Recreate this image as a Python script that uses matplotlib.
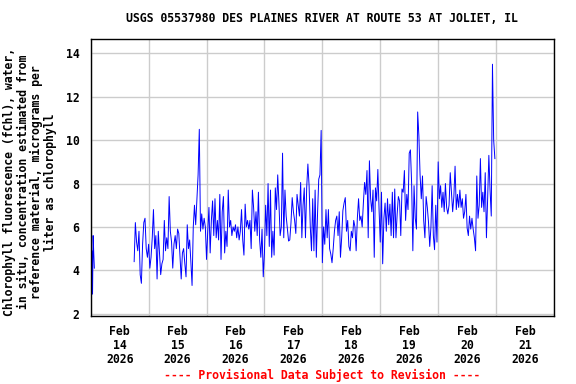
import numpy as np
import pandas as pd
import matplotlib
matplotlib.use('Agg')
import matplotlib.pyplot as plt
import matplotlib.dates as mdates

# chlorophyll fluorescence readings
# short early-morning run on Feb 14, 15 minute steps
early_start = '2026-02-14 00:00'
early_vals = [4.8, 3.6, 4.9, 2.9, 5.6, 4.8, 4.1]

# main record from Feb 14 18:00, 30 minute steps
main_start = '2026-02-14 18:00'
feb14_eve = [4.4, 6.2, 5.3, 4.9, 5.8, 3.8, 3.4, 5.2, 6.2, 6.4, 5.0, 4.6]
feb15 = [5.2, 4.1, 4.6, 5.5, 6.8, 5.0, 5.6, 3.6, 5.8, 4.8, 3.8, 4.3, 4.5, 6.3, 4.9, 5.5,
         5.0, 7.4, 5.8, 5.3, 4.1, 5.2, 5.6, 5.0, 5.9, 5.7, 4.6, 3.6, 4.8, 5.0, 4.3, 3.7,
         6.1, 5.0, 5.4, 4.4, 3.3, 6.0, 7.0, 6.1, 7.3, 8.4, 10.5, 5.8, 6.6, 5.9, 6.4, 6.0]
feb16 = [4.5, 5.8, 6.9, 4.8, 6.3, 7.2, 5.6, 7.3, 5.5, 6.3, 5.4, 7.5, 4.5, 6.7, 7.4, 4.8,
         5.8, 5.1, 7.7, 6.0, 6.3, 5.6, 6.0, 5.8, 6.1, 5.5, 6.0, 5.4, 5.8, 6.8, 5.4, 4.7,
         7.05, 6.0, 6.3, 5.9, 6.3, 5.0, 7.7, 6.9, 5.8, 6.7, 5.6, 7.6, 5.4, 4.6, 5.9, 3.7]
feb17 = [4.8, 7.0, 5.6, 8.0, 5.1, 7.7, 4.6, 5.8, 4.7, 7.8, 6.8, 8.4, 7.1, 5.6, 6.0, 9.4,
         5.5, 7.7, 6.5, 5.9, 5.35, 5.4, 6.2, 7.35, 6.7, 6.3, 5.7, 7.5, 7.0, 6.5, 8.05, 5.5,
         7.0, 7.8, 5.5, 7.8, 8.9, 7.9, 6.0, 4.9, 7.3, 4.9, 7.7, 4.6, 6.6, 8.2, 8.4, 10.45]
feb18 = [4.35, 6.0, 5.2, 6.8, 5.5, 6.8, 5.0, 4.75, 4.35, 5.0, 5.8, 6.3, 6.5, 5.6, 6.7, 4.6,
         5.5, 6.75, 7.1, 7.35, 5.8, 6.3, 5.1, 4.9, 5.8, 5.5, 6.3, 6.0, 4.9, 6.4, 7.3, 6.3,
         6.5, 6.0, 7.1, 8.05, 7.5, 8.6, 5.5, 9.05, 7.3, 6.7, 7.7, 4.6, 7.8, 7.2, 8.65, 6.8]
feb19 = [5.3, 7.6, 4.3, 6.4, 7.1, 5.8, 7.3, 6.1, 7.05, 5.6, 7.6, 5.5, 7.75, 5.5, 6.6, 7.4,
         7.2, 5.6, 7.75, 7.6, 8.6, 6.3, 7.5, 6.8, 9.4, 9.55, 8.0, 4.9, 7.9, 6.4, 5.9, 11.3,
         10.2, 8.4, 7.3, 8.35, 6.3, 5.5, 7.4, 6.9, 6.2, 5.1, 6.0, 7.9, 5.6, 4.95, 7.0, 5.3]
feb20 = [9.0, 7.3, 7.9, 6.9, 7.6, 6.7, 8.0, 6.9, 6.6, 7.0, 8.5, 7.6, 6.7, 7.4, 8.8, 6.8,
         7.5, 6.9, 7.7, 6.9, 7.3, 6.4, 6.7, 7.5, 5.95, 5.6, 6.5, 5.9, 6.4, 5.9, 5.5, 4.9,
         8.35, 6.4, 7.0, 9.15, 6.9, 7.6, 6.7, 8.5, 5.5, 7.3, 9.3, 7.7, 6.5, 13.5, 10.0, 9.15]

title = 'USGS 05537980 DES PLAINES RIVER AT ROUTE 53 AT JOLIET, IL'
ylabel = ('Chlorophyll fluorescence (fChl), water,\nin situ, concentration estimated from\n'
          'reference material, micrograms per\nliter as chlorophyll')
footer = '---- Provisional Data Subject to Revision ----'
yticks = [2, 4, 6, 8, 10, 12, 14]

main_vals = feb14_eve + feb15 + feb16 + feb17 + feb18 + feb19 + feb20
early_t = pd.date_range(early_start, periods=len(early_vals), freq='15min')
main_t = pd.date_range(main_start, periods=len(main_vals), freq='30min')

font = dict(family='DejaVu Sans Mono', weight='bold', size=8.3)

fig = plt.figure(figsize=(5.76, 3.84), dpi=100)
ax = fig.add_axes([0.1575, 0.178, 0.8043, 0.7197])

ax.plot(early_t, early_vals, color='#0000ff', linewidth=0.7)
ax.plot(main_t, main_vals, color='#0000ff', linewidth=0.7)

ax.set_xlim(pd.Timestamp('2026-02-14'), pd.Timestamp('2026-02-22'))
ax.set_ylim(1.91, 14.65)
ax.set_yticks(yticks)

# gridlines at midnight, labels at noon
ax.xaxis.set_major_locator(mdates.DayLocator())
ax.xaxis.set_major_formatter(plt.NullFormatter())
ax.xaxis.set_minor_locator(mdates.HourLocator(byhour=12))
ax.xaxis.set_minor_formatter(mdates.DateFormatter('%b\n%d\n%Y'))
ax.grid(True, which='major', color='#cccccc', linewidth=1.0)
ax.set_axisbelow(True)

ax.tick_params(which='both', length=0)
ax.tick_params(axis='y', pad=8)
ax.tick_params(axis='x', which='minor', pad=7)
for lab in ax.get_yticklabels() + ax.xaxis.get_minorticklabels():
    lab.set_fontfamily(font['family'])
    lab.set_fontweight('bold')
    lab.set_fontsize(font['size'])
for lab in ax.xaxis.get_minorticklabels():
    lab.set_linespacing(1.1)

for s in ax.spines.values():
    s.set_linewidth(1.0)
    s.set_color('black')

fig.text(0.5595, 0.951, title, ha='center', va='center', **font)
fig.text(0.052, 0.526, ylabel, rotation=90, ha='center', va='center',
         multialignment='center', linespacing=1.05, **font)
fig.text(0.5595, 0.023, footer, ha='center', va='center', color='red', **font)

fig.savefig('out.png', dpi=100)
